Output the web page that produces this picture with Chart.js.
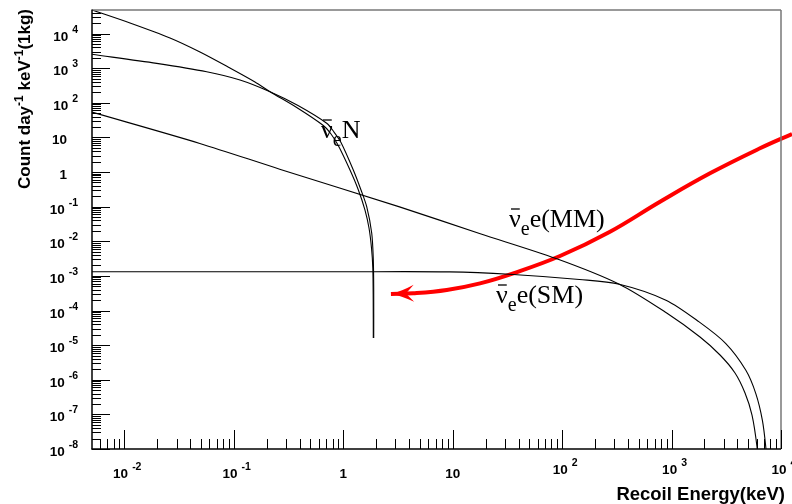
<!DOCTYPE html>
<html>
<head>
<meta charset="utf-8">
<script src="https://cdn.jsdelivr.net/npm/chart.js@4.4.1/dist/chart.umd.min.js"></script>
<style>
body{margin:0;background:#fff;}
#c{display:block;}
</style>
</head>
<body>
<canvas id="c" width="792" height="504"></canvas>
<script>
// recoil energy (keV) and rate pairs
var nuN1_T    = [0.00507, 0.01128, 0.02616, 0.04916, 0.0924, 0.1564, 0.2145, 0.3761, 0.6581, 0.7737, 0.8966, 1.154, 1.3656, 1.582, 1.721, 1.814, 1.865, 1.8804, 1.8843];
var nuN1_rate = [4.79e4, 2.02e4, 7.44e3, 2.93e3, 1.01e3, 399, 209, 73.1, 22.1, 12.56, 6.04, 1.145, 0.3236, 0.080, 0.0242, 6.40e-3, 1.69e-3, 2.01e-4, 1.61e-5];

var nuN2_T    = [0.00507, 0.01977, 0.0566, 0.1141, 0.2145, 0.3865, 0.707, 0.8244, 0.955, 1.237, 1.4544, 1.64, 1.822, 1.8843, 1.9003, 1.9003];
var nuN2_rate = [2.52e3, 1.38e3, 791, 456, 209, 83.5, 25.6, 14.3, 7.13, 1.145, 0.3027, 0.0998, 0.01734, 2.88e-3, 3.92e-4, 1.61e-5];

var mm_T    = [0.00507, 0.049, 0.263, 3.27, 17.6, 88.1, 333, 903, 1820, 2773, 3801, 4691, 5435, 6038, 6231];
var mm_rate = [53.8, 6.71, 1.21, 0.0986, 0.0168, 3.18e-3, 5.75e-4, 8.47e-5, 1.72e-5, 5.19e-6, 1.57e-6, 4.15e-7, 9.59e-8, 1.14e-8, 2.5e-9];

var sm_T    = [0.00507, 1, 9.35, 33.0, 144, 333, 889, 1786, 3133, 4775, 5888, 6761, 7261, 7400];
var sm_rate = [1.32e-3, 1.32e-3, 1.31e-3, 1.12e-3, 7.87e-4, 5.75e-4, 1.99e-4, 4.69e-5, 1.11e-5, 1.88e-6, 3.99e-7, 6.75e-8, 1.14e-8, 4e-9];

// red arrow, right to left, last point is the tip
var arrow_T    = [12610, 6427, 2246, 784.6, 274, 95.7, 35.8, 17.8, 8.83, 4.37, 2.73];
var arrow_rate = [12.6, 4.85, 0.92, 0.139, 0.0189, 3.76e-3, 1.19e-3, 6.11e-4, 3.92e-4, 3.14e-4, 3.0e-4];

var xTickExp = [-2, -1, 0, 1, 2, 3, 4];
var yTickExp = [-8, -7, -6, -5, -4, -3, -2, -1, 0, 1, 2, 3, 4];

var xMin = 5.07e-3, xMax = 1e4, yMin = 1e-8, yMax = 4.8e4;

function pairs(xs, ys) {
    var out = [];
    for (var i = 0; i < xs.length; i++) out.push({x: xs[i], y: ys[i]});
    return out;
}

function curve(label, xs, ys) {
    return {
        label: label,
        data: pairs(xs, ys),
        borderColor: '#000',
        borderWidth: 1.1,
        pointRadius: 0,
        tension: 0.3,
        fill: false
    };
}

var SANS = "'Liberation Sans', Arial, sans-serif";
var SERIF = "'Liberation Serif', 'Times New Roman', serif";

function line(ctx, x1, y1, x2, y2) {
    ctx.beginPath(); ctx.moveTo(x1, y1); ctx.lineTo(x2, y2); ctx.stroke();
}

// "10" with a raised exponent
function powLabel(ctx, exp, x, y, align) {
    var base = exp === 0 ? '1' : '10';
    var sup = (exp === 0 || exp === 1) ? '' : String(exp);
    ctx.font = 'bold 13.5px ' + SANS;
    var wb = ctx.measureText(base).width;
    ctx.font = 'bold 10.5px ' + SANS;
    var ws = sup ? ctx.measureText(sup).width + 4 : 0;
    var x0;
    if (align === 'center') x0 = sup ? x + 3 - (wb + ws) / 2 : x - wb / 2;
    else x0 = sup ? x - wb - ws : x - wb;
    ctx.textAlign = 'left';
    ctx.textBaseline = 'alphabetic';
    ctx.font = 'bold 13.5px ' + SANS;
    ctx.fillText(base, x0, y);
    if (sup) {
        ctx.font = 'bold 10.5px ' + SANS;
        ctx.fillText(sup, x0 + wb + 4, y - 8);
    }
}

function nuLabel(ctx, x, y, rest) {
    ctx.textAlign = 'left';
    ctx.textBaseline = 'alphabetic';
    ctx.font = '26px ' + SERIF;
    ctx.fillText('\u03bd', x, y);
    var wn = ctx.measureText('\u03bd').width;
    ctx.lineWidth = 1.3;
    line(ctx, x + 2, y - 18, x + wn - 1, y - 18);
    ctx.font = '20px ' + SERIF;
    ctx.fillText('e', x + wn, y + 8);
    var we = ctx.measureText('e').width;
    ctx.font = '26px ' + SERIF;
    ctx.fillText(rest, x + wn + we, y);
}

var axesPlugin = {
    id: 'rootAxes',
    afterDatasetsDraw: function(chart) {
        var ctx = chart.ctx, a = chart.chartArea;
        var xs = chart.scales.x, ys = chart.scales.y;
        ctx.save();

        // arrow head on the red curve
        var meta = chart.getDatasetMeta(4);
        var p1 = meta.data[meta.data.length - 1], p0 = meta.data[meta.data.length - 2];
        var ang = Math.atan2(p1.y - p0.y, p1.x - p0.x);
        ctx.save();
        ctx.translate(p1.x, p1.y);
        ctx.rotate(ang);
        ctx.fillStyle = '#ff0000';
        ctx.beginPath();
        ctx.moveTo(0, 0);
        ctx.quadraticCurveTo(-10, -2, -23, -8.5);
        ctx.lineTo(-15, 0);
        ctx.lineTo(-23, 8.5);
        ctx.quadraticCurveTo(-10, 2, 0, 0);
        ctx.fill();
        ctx.restore();

        // frame
        ctx.strokeStyle = '#777';
        ctx.lineWidth = 1.5;
        line(ctx, a.left, a.top, a.right, a.top);
        line(ctx, a.right, a.top, a.right, a.bottom);
        ctx.strokeStyle = '#000';
        line(ctx, a.left, a.top - 0.5, a.left, a.bottom + 0.5);
        line(ctx, a.left - 0.5, a.bottom, a.right, a.bottom);

        // ticks
        ctx.lineWidth = 1;
        for (var e = -3; e <= 4; e++) {
            for (var m = 1; m <= 9; m++) {
                var v = m * Math.pow(10, e);
                if (v >= xMin * 0.999 && v <= xMax * 1.001) {
                    var px = Math.round(xs.getPixelForValue(v)) + 0.5;
                    line(ctx, px, a.bottom, px, a.bottom - (m === 1 ? 19 : 10));
                }
            }
        }
        for (var e2 = -8; e2 <= 4; e2++) {
            for (var m2 = 1; m2 <= 9; m2++) {
                var v2 = m2 * Math.pow(10, e2);
                if (v2 >= yMin * 0.999 && v2 <= yMax * 1.001) {
                    var py = Math.round(ys.getPixelForValue(v2)) + 0.5;
                    line(ctx, a.left, py, a.left + (m2 === 1 ? 18 : 9), py);
                }
            }
        }

        // tick labels
        ctx.fillStyle = '#000';
        xTickExp.forEach(function(ex) {
            var px = xs.getPixelForValue(Math.pow(10, ex));
            powLabel(ctx, ex, px, ex >= 2 ? 474 : 478, 'center');
        });
        yTickExp.forEach(function(ex) {
            var py = ys.getPixelForValue(Math.pow(10, ex));
            var right = (ex === 0 || ex === 1) ? 67 : 78;
            powLabel(ctx, ex, right, py + 7, 'right');
        });

        // axis titles
        ctx.font = 'bold 18.5px ' + SANS;
        ctx.textAlign = 'right';
        ctx.fillText('Recoil Energy(keV)', 785, 500);

        var runs = [['Count day', 0, 17], ['-1', -7, 12], [' keV', 0, 17], ['-1', -7, 12], ['(1kg)', 0, 17]];
        var total = 0;
        runs.forEach(function(r) { ctx.font = 'bold ' + r[2] + 'px ' + SANS; r.push(ctx.measureText(r[0]).width); total += r[3]; });
        ctx.save();
        ctx.translate(30, 9 + total);
        ctx.rotate(-Math.PI / 2);
        ctx.textAlign = 'left';
        var cx = 0;
        runs.forEach(function(r) {
            ctx.font = 'bold ' + r[2] + 'px ' + SANS;
            ctx.fillText(r[0], cx, r[1]);
            cx += r[3];
        });
        ctx.restore();

        // curve labels
        ctx.strokeStyle = '#000';
        nuLabel(ctx, 321, 138, 'N');
        nuLabel(ctx, 509, 227, 'e(MM)');
        nuLabel(ctx, 496, 303, 'e(SM)');

        ctx.restore();
    }
};

var redCurve = {
    label: 'MM arrow',
    data: pairs(arrow_T, arrow_rate),
    borderColor: '#ff0000',
    borderWidth: 4,
    pointRadius: 0,
    tension: 0.4,
    clip: false,
    fill: false
};

new Chart(document.getElementById('c').getContext('2d'), {
    type: 'line',
    data: {
        datasets: [
            curve('nuN 1', nuN1_T, nuN1_rate),
            curve('nuN 2', nuN2_T, nuN2_rate),
            curve('nue MM', mm_T, mm_rate),
            curve('nue SM', sm_T, sm_rate),
            redCurve
        ]
    },
    options: {
        responsive: false,
        animation: false,
        layout: {padding: {left: 92, right: 11, top: 10, bottom: 55}},
        plugins: {legend: {display: false}, tooltip: {enabled: false}},
        scales: {
            x: {type: 'logarithmic', min: xMin, max: xMax, display: false},
            y: {type: 'logarithmic', min: yMin, max: yMax, display: false}
        }
    },
    plugins: [axesPlugin]
});
</script>
</body>
</html>
